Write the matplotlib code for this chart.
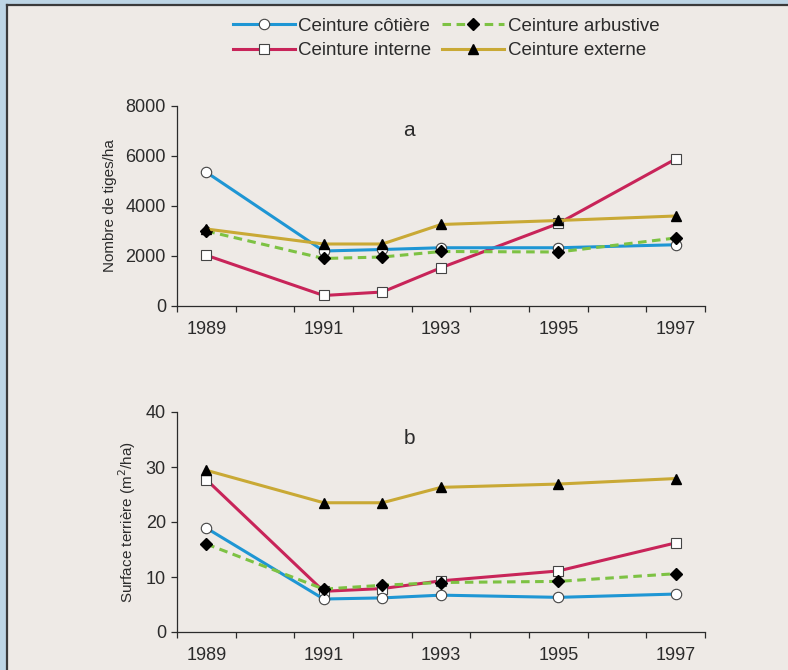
import matplotlib.pyplot as plt
from matplotlib.patches import Rectangle
from matplotlib.lines import Line2D

plt.rcParams['font.family'] = ['Liberation Sans', 'DejaVu Sans']

# years of the surveys
years = [1989, 1991, 1992, 1993, 1995, 1997]

# a : stems per ha
tiges_cotiere = [5350, 2200, 2260, 2330, 2330, 2450]
tiges_arbustive = [3000, 1900, 1960, 2180, 2160, 2720]
tiges_interne = [2030, 420, 560, 1530, 3300, 5880]
tiges_externe = [3080, 2480, 2480, 3260, 3420, 3600]

# b : basal area (m2/ha)
surf_cotiere = [18.9, 6.0, 6.2, 6.7, 6.3, 6.9]
surf_arbustive = [16.0, 7.8, 8.5, 9.0, 9.2, 10.6]
surf_interne = [27.7, 7.4, 7.9, 9.3, 11.1, 16.2]
surf_externe = [29.4, 23.5, 23.5, 26.3, 26.9, 27.9]

labels = ['Ceinture côtière', 'Ceinture arbustive', 'Ceinture interne', 'Ceinture externe']
xlabels = [1989, 1991, 1993, 1995, 1997]

bg = '#EEEAE6'
ink = '#2b2b2b'
c_blue = '#1E96D4'
c_green = '#7DC243'
c_red = '#C82459'
c_yellow = '#C9A935'

W, H = 788, 670
fig = plt.figure(figsize=(W / 100, H / 100), dpi=100)
fig.patch.set_facecolor('#BDD5E5')
fig.add_artist(Rectangle((8 / W, 0), 1, 1 - 6 / H, transform=fig.transFigure,
                         facecolor=bg, edgecolor='none', zorder=-10))
fig.add_artist(Line2D([7 / W, 7 / W], [0, 1 - 5 / H], transform=fig.transFigure,
                      color='#3a3a3a', lw=1.6))
fig.add_artist(Line2D([7 / W, 1], [1 - 5 / H, 1 - 5 / H], transform=fig.transFigure,
                      color='#3a3a3a', lw=1.6))


def style(ax, ylim, yticks, ylabel, letter, lpad):
    ax.set_facecolor('none')
    for s in ['top', 'right']:
        ax.spines[s].set_visible(False)
    for s in ['left', 'bottom']:
        ax.spines[s].set_color(ink)
        ax.spines[s].set_linewidth(0.9)
    ax.set_xlim(1988.5, 1997.5)
    ax.set_ylim(*ylim)
    ax.set_xticks([y + 0.5 for y in range(1988, 1998)])
    ax.set_xticklabels([])
    ax.set_xticks(xlabels, minor=True)
    ax.set_xticklabels([str(v) for v in xlabels], minor=True)
    ax.tick_params(axis='x', which='major', direction='out', length=4, width=0.9, color=ink)
    ax.tick_params(axis='x', which='minor', length=0, pad=11, labelsize=13, labelcolor=ink)
    ax.set_yticks(yticks)
    ax.tick_params(axis='y', direction='out', length=4, width=0.9, color=ink,
                   labelsize=13, labelcolor=ink, pad=4)
    ax.set_ylabel(ylabel, fontsize=11, color=ink, labelpad=lpad)
    ax.text(0.44, 0.88, letter, transform=ax.transAxes, fontsize=15, color=ink,
            ha='center', va='center')


def draw(ax, cot, arb, inn, ext):
    h3, = ax.plot(years, inn, color=c_red, lw=2.2, marker='s', ms=7.5,
                  mfc='white', mec='#444444', mew=0.8, zorder=3)
    h1, = ax.plot(years, cot, color=c_blue, lw=2.2, marker='o', ms=7.5,
                  mfc='white', mec='#444444', mew=0.8, zorder=4)
    h2, = ax.plot(years, arb, color=c_green, lw=2.2, ls=(0, (2.8, 1.8)), marker='D',
                  ms=6.3, mfc='black', mec='black', zorder=5)
    h4, = ax.plot(years, ext, color=c_yellow, lw=2.2, marker='^', ms=7.5,
                  mfc='black', mec='black', zorder=6)
    return h1, h2, h3, h4


ax1 = fig.add_axes([177 / W, 1 - 306 / H, 528 / W, 200 / H])
hs = draw(ax1, tiges_cotiere, tiges_arbustive, tiges_interne, tiges_externe)
style(ax1, (0, 8000), [0, 2000, 4000, 6000, 8000], 'Nombre de tiges/ha', 'a', 6)

ax2 = fig.add_axes([177 / W, 1 - 632 / H, 528 / W, 220 / H])
draw(ax2, surf_cotiere, surf_arbustive, surf_interne, surf_externe)
style(ax2, (0, 40), [0, 10, 20, 30, 40], 'Surface terrière (m$^2$/ha)', 'b', 5.5)

h1, h2, h3, h4 = hs
fig.legend([h1, h3, h2, h4], [labels[0], labels[2], labels[1], labels[3]],
           loc='center', bbox_to_anchor=(446 / W, 1 - 38.5 / H), ncol=2,
           frameon=False, fontsize=13.5, handlelength=3.3, handletextpad=0.2,
           columnspacing=0.55, labelspacing=0.4, borderpad=0, labelcolor=ink)

fig.savefig('out.png', dpi=100, facecolor=fig.get_facecolor())
